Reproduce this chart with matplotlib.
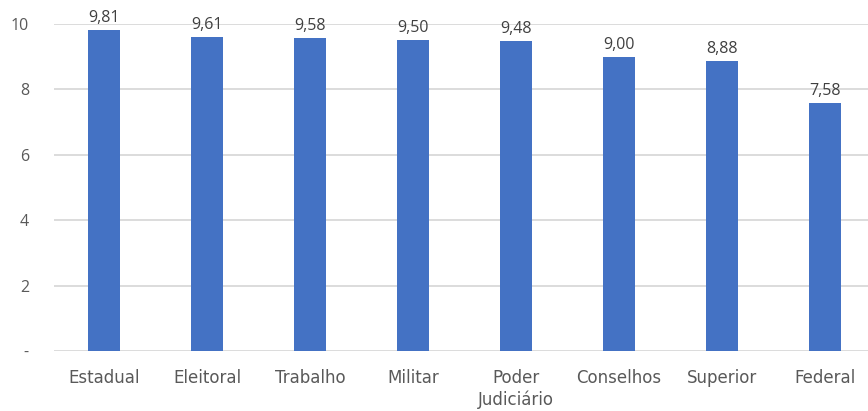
import numpy as np
import matplotlib.pyplot as plt

categorias = ['Estadual', 'Eleitoral', 'Trabalho', 'Militar', 'Poder\nJudiciário',
              'Conselhos', 'Superior', 'Federal']
valores = [9.81, 9.61, 9.58, 9.50, 9.48, 9.00, 8.88, 7.58]
yticks = [0, 2, 4, 6, 8, 10]
ytick_labels = ['-', '2', '4', '6', '8', '10']

cor_texto = '#595959'
plt.rcParams['font.family'] = ['Open Sans', 'DejaVu Sans']

fig = plt.figure(figsize=(8.68, 4.11), dpi=100)
# eixo vai um pouco além da borda direita, como no original
ax = fig.add_axes([54 / 868, 1 - 351 / 411, 824 / 868, 327 / 411])

x = np.arange(len(categorias)) - 0.015
ax.bar(x, valores, width=0.31, color='#4472C4', zorder=3)

for xi, v in zip(x, valores):
    ax.text(xi, v + 0.12, f"{v:.2f}".replace('.', ','), ha='center', va='bottom',
            fontsize=11.5, color='#404040')

ax.set_xlim(-0.5, len(categorias) - 0.5)
ax.set_ylim(0, 10)
ax.set_yticks(yticks)
ax.set_yticklabels(ytick_labels)
ax.set_xticks(x)
ax.set_xticklabels(categorias, linespacing=1.25, family='DejaVu Sans', fontsize=12)
ax.tick_params(axis='both', length=0, colors=cor_texto)
ax.tick_params(axis='y', pad=18, labelsize=11.5)
ax.tick_params(axis='x', pad=13)

ax.grid(axis='y', color='#d9d9d9', linewidth=1.3, zorder=0)
for s in ax.spines.values():
    s.set_visible(False)

fig.savefig('out.png', dpi=100)
